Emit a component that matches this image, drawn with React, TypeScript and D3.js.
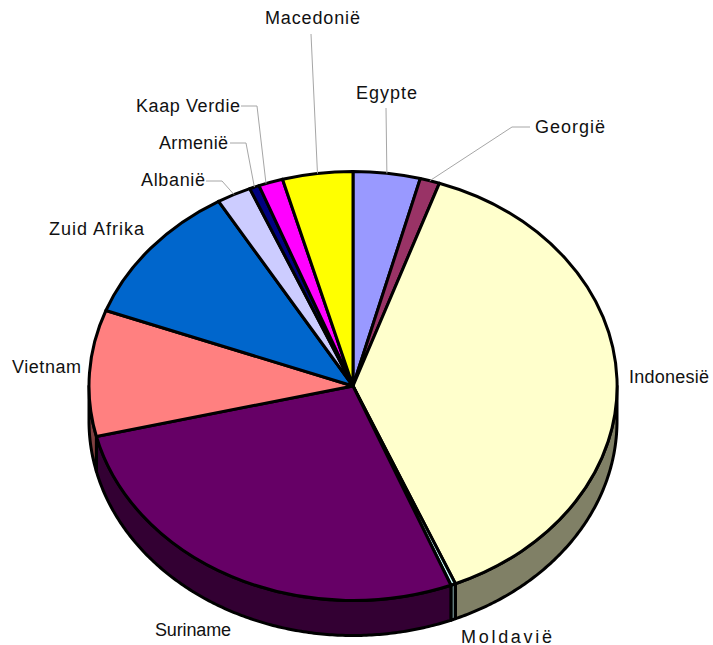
import React, { useRef, useEffect } from "react";
import * as d3 from "d3";

const countries = ["Egypte", "Georgië", "Indonesië", "Moldavië", "Suriname", "Vietnam", "Zuid Afrika", "Albanië", "Armenië", "Kaap Verdie", "Macedonië"];
const shares = [4.1, 1.2, 38.4, 0.3, 27.3, 9.5, 10.8, 2.1, 0.6, 1.5, 4.3];
const colors = ["#9999ff", "#993366", "#ffffcc", "#ccffff", "#660066", "#ff8080", "#0066cc", "#ccccff", "#000080", "#ff00ff", "#ffff00"];

// label box: left x, baseline y, text width; leader = points before the line hits the pie, t = where along the slice
const labelLayout: Record<string, { x: number; y: number; w: number; leader?: [number, number][]; t?: number }> = {
    "Egypte": { x: 356, y: 99, w: 61, leader: [[386, 108]] },
    "Georgië": { x: 535, y: 133, w: 70, leader: [[530, 127], [512, 127]] },
    "Indonesië": { x: 629, y: 383, w: 80 },
    "Moldavië": { x: 461, y: 643, w: 91 },
    "Suriname": { x: 155, y: 636, w: 76 },
    "Vietnam": { x: 12, y: 373, w: 69 },
    "Zuid Afrika": { x: 49, y: 235, w: 95 },
    "Albanië": { x: 141, y: 186, w: 64, leader: [[206, 181], [222, 181]] },
    "Armenië": { x: 159, y: 149, w: 69, leader: [[230, 143], [246, 143]] },
    "Kaap Verdie": { x: 136, y: 112, w: 104, leader: [[241, 106], [257, 106]], t: 0.3 },
    "Macedonië": { x: 265, y: 24, w: 95, leader: [[311, 34]] },
};

const width = 713;
const height = 645;
const cx = 353;
const cy = 386;
const rx = 264;
const ry = 214.5;
const depth = 35;

// walls are the slice colour at half brightness
const halfTone = (color: string) => {
    const c = d3.rgb(color);
    return d3.rgb(c.r / 2, c.g / 2, c.b / 2).formatHex();
};

const App = () => {
    const ref = useRef<SVGSVGElement | null>(null);

    useEffect(() => {
        const svg = d3.select(ref.current);
        svg.selectAll("*").remove();

        const rows = countries.map((name, i) => ({ name, value: shares[i], color: colors[i] }));
        const pie = d3.pie<{ name: string; value: number; color: string }>().sort(null).value((d) => d.value);
        const slices = pie(rows);

        const px = (a: number) => cx + rx * Math.sin(a);
        const py = (a: number) => cy - ry * Math.cos(a);

        // Side wall, only the front half of the ellipse shows
        const line = d3.line<[number, number]>();
        const wall = svg.append("g");
        slices.forEach((s) => {
            const a0 = Math.max(s.startAngle, Math.PI / 2);
            const a1 = Math.min(s.endAngle, (3 * Math.PI) / 2);
            if (a1 <= a0) return;
            const n = Math.ceil((a1 - a0) / 0.01);
            const angles = d3.range(n + 1).map((i) => a0 + ((a1 - a0) * i) / n);
            const pts: [number, number][] = [
                ...angles.map((a) => [px(a), py(a)] as [number, number]),
                ...angles.slice().reverse().map((a) => [px(a), py(a) + depth] as [number, number]),
            ];
            wall.append("path")
                .attr("d", line(pts) + "Z")
                .attr("fill", halfTone(s.data.color))
                .attr("stroke", "#000")
                .attr("stroke-width", 3)
                .attr("stroke-linejoin", "round");
        });

        // Top of the pie, unit arc squashed to the ellipse
        const arc = d3.arc<d3.PieArcDatum<{ name: string; value: number; color: string }>>().innerRadius(0).outerRadius(1);
        svg.append("g")
            .attr("transform", `translate(${cx},${cy}) scale(${rx},${ry})`)
            .selectAll("path")
            .data(slices)
            .enter()
            .append("path")
            .attr("d", (d) => arc(d))
            .attr("fill", (d) => d.data.color)
            .attr("stroke", "#000")
            .attr("stroke-width", 3)
            .attr("stroke-linejoin", "round")
            .attr("vector-effect", "non-scaling-stroke");

        // Leader lines
        slices.forEach((s) => {
            const lay = labelLayout[s.data.name];
            if (!lay.leader) return;
            const a = s.startAngle + (s.endAngle - s.startAngle) * (lay.t ?? 0.5);
            svg.append("path")
                .attr("d", line([...lay.leader, [px(a), py(a)]]))
                .attr("fill", "none")
                .attr("stroke", "#a6a6a6")
                .attr("stroke-width", 1);
        });

        // Labels
        svg.append("g")
            .selectAll("text")
            .data(slices)
            .enter()
            .append("text")
            .attr("x", (d) => labelLayout[d.data.name].x)
            .attr("y", (d) => labelLayout[d.data.name].y)
            .attr("textLength", (d) => labelLayout[d.data.name].w)
            .attr("lengthAdjust", "spacing")
            .attr("font-family", "'Liberation Sans', Arial, sans-serif")
            .attr("font-size", 18)
            .attr("fill", "#111")
            .text((d) => d.data.name);
    }, []);

    return (
        <svg
            ref={ref}
            width={width}
            height={height}
            viewBox={`0 0 ${width} ${height}`}
            style={{ position: "absolute", left: 0, top: 0, background: "#fff" }}
        />
    );
};

export default App;
